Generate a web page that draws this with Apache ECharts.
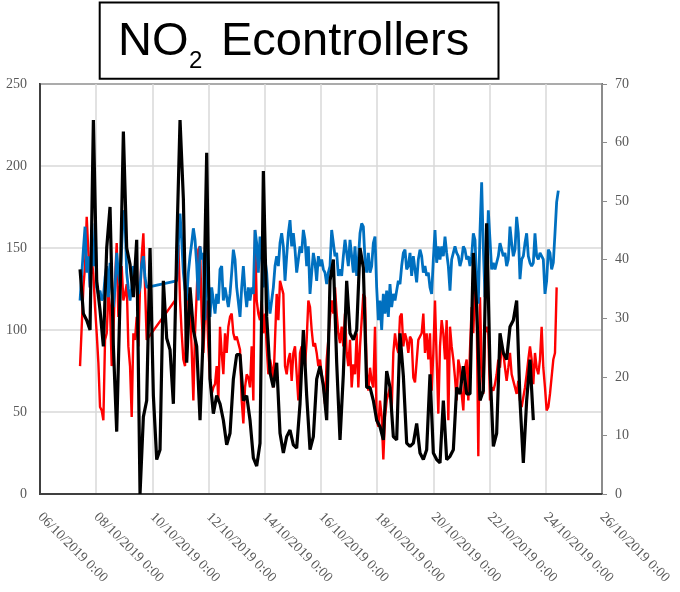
<!DOCTYPE html>
<html><head><meta charset="utf-8">
<script src="https://cdn.jsdelivr.net/npm/echarts@6/dist/echarts.min.js"></script>
<style>html,body{margin:0;padding:0;background:#fff}#c{width:680px;height:592px}</style>
</head><body><div id="c"></div>
<script>
// X-axis tick labels (every 48 h from 06/10/2019 0:00)
const xTickLabels = ['06/10/2019 0:00','08/10/2019 0:00','10/10/2019 0:00','12/10/2019 0:00','14/10/2019 0:00',
  '16/10/2019 0:00','18/10/2019 0:00','20/10/2019 0:00','22/10/2019 0:00','24/10/2019 0:00','26/10/2019 0:00'];
// sampling: first reading at 07/10/2019 ~10:12 (hours after 06/10 0:00)
const startHour = 34.2;
const stepBlueRedH = 1.4233;
const stepBlackH = 2.8467;

const blue = [
118,118,149,163,135,145,126,151,139,165,
126,122,124,118,120,132,139,120,141,126,
114,126,147,135,128,151,173,167,135,125,
118,126,139,135,130,122,126,140,145,132,
126,null,null,null,null,null,null,null,null,null,
null,null,null,null,null,null,null,null,130,153,
171,155,135,125,118,135,145,153,162,155,
140,118,151,143,147,106,149,132,108,126,
118,110,122,116,137,139,118,126,120,114,
122,135,149,143,126,126,
108,126,139,124,114,126,118,126,122,161,
153,135,157,145,126,143,135,118,110,118,
126,139,145,139,153,159,151,130,145,159,
167,151,159,149,135,143,151,147,161,155,
139,151,122,135,147,141,130,145,139,143,
137,135,128,135,139,161,161,145,147,133,
137,133,145,155,147,139,155,145,135,151,
133,143,159,165,163,143,135,147,135,139,
153,157,126,106,118,100,122,110,124,108,
128,114,122,118,124,130,128,139,147,149,
137,139,
147,133,145,137,129,143,149,145,135,139,
133,135,126,122,143,161,141,151,143,151,
145,157,147,139,124,143,147,151,147,145,
139,143,151,149,143,145,139,145,159,155,
130,116,160,190,150,120,137,173,155,137,
141,137,141,145,153,149,145,147,139,143,
163,153,145,149,169,159,131,143,145,153,
159,145,141,139,141,159,145,143,147,145,
143,122,130,149,147,137,141,159,178,185
];

const red = [
78,102,126,139,169,147,126,143,134,114,
98,80,53,51,45,94,98,122,114,78,
98,130,153,108,126,139,118,122,128,90,
78,47,98,94,108,90,126,145,159,126,
94,null,null,null,null,null,null,null,null,null,
null,null,null,null,null,null,null,118,140,152,
118,98,82,78,118,122,114,88,57,98,
122,149,151,108,86,110,118,90,70,61,
65,67,78,57,102,86,73,98,86,102,
108,110,98,94,96,92,
88,57,43,65,73,71,65,90,57,161,
118,110,106,118,98,110,90,73,82,77,
65,94,122,106,130,126,122,78,73,82,
86,69,86,90,73,57,86,90,86,78,
94,118,114,100,90,92,86,78,82,73,
67,55,82,94,108,118,110,126,110,98,
92,102,90,110,86,78,94,65,79,73,
98,65,90,106,122,120,75,63,77,69,
65,102,45,41,57,47,21,47,57,61,
65,51,86,98,90,86,108,110,90,98,
94,86,
96,94,71,68,81,94,94,98,110,86,
98,82,98,63,86,118,82,49,90,106,
98,82,106,45,102,90,82,71,57,82,
77,61,51,77,82,57,88,114,98,126,
114,23,120,77,61,98,102,98,57,65,
63,67,73,82,77,90,86,77,69,77,
86,73,69,65,61,69,57,53,59,65,
73,82,90,82,67,86,77,73,82,102,
77,65,51,53,61,61,82,86,126
];

const black = [
137,110,106,100,228,130,112,90,150,175,
90,38,120,221,150,140,120,155,0,47,
57,150,60,21,27,130,95,88,55,150,
228,180,80,126,100,90,45,100,208,70,
49,60,55,45,30,37,70,85,
85,57,60,45,22,17,31,197,108,74,
65,80,37,25,35,39,30,28,55,100,
60,27,35,70,78,66,45,130,143,80,
33,73,130,98,94,100,150,138,65,65,
57,45,41,33,75,65,35,33,98,72,31,
29,31,43,25,21,27,73,25,21,19,
57,21,23,27,65,61,78,61,61,147,
114,57,63,165,77,29,37,98,86,82,
102,106,118,57,19,57,82,45
];

function toSeries(vals, step) {
  return vals.map((v, i) => [startHour + i * step, v]);
}

const labelFont = { fontFamily: '"Liberation Serif", "Times New Roman", serif', fontSize: 14, color: '#595959' };
const chart = echarts.init(document.getElementById('c'), null, { renderer: 'canvas' });
chart.setOption({
  animation: false,
  backgroundColor: '#fff',
  grid: { left: 40, right: 78, top: 84, bottom: 98, show: true, borderColor: '#262626', borderWidth: 2,
          containLabel: false, outerBoundsMode: 'none' },
  graphic: [
    { type: 'rect', shape: { x: 99.7, y: 2.5, width: 398.8, height: 76.2 },
      style: { fill: '#fff', stroke: '#000', lineWidth: 2 }, z: 10 },
    { type: 'text', x: 118, y: 18.5, z: 11,
      style: { text: 'NO', fontSize: 47, fontFamily: '"Liberation Sans", Arial, sans-serif', fill: '#000', align: 'left', verticalAlign: 'top' } },
    { type: 'text', x: 189, y: 49.7, z: 11,
      style: { text: '2', fontSize: 24, fontFamily: '"Liberation Sans", Arial, sans-serif', fill: '#000', align: 'left', verticalAlign: 'top' } },
    { type: 'text', x: 221, y: 18.5, z: 11,
      style: { text: 'Econtrollers', fontSize: 47, fontFamily: '"Liberation Sans", Arial, sans-serif', fill: '#000', align: 'left', verticalAlign: 'top' } }
  ],
  xAxis: {
    type: 'value', min: 0, max: 480, interval: 48,
    axisLine: { show: true, lineStyle: { color: '#404040', width: 2 } },
    axisTick: { show: false },
    splitLine: { show: true, lineStyle: { color: '#d9d9d9', width: 1.5 } },
    axisLabel: Object.assign({ rotate: -45, margin: 21, showMinLabel: true, showMaxLabel: true,
      formatter: v => xTickLabels[Math.round(v / 48)] }, labelFont)
  },
  yAxis: [
    { type: 'value', min: 0, max: 250, interval: 50, position: 'left',
      axisLine: { show: true, lineStyle: { color: '#404040', width: 2 } },
      axisTick: { show: false },
      splitLine: { show: true, lineStyle: { color: '#d9d9d9', width: 1.5 } },
      axisLabel: Object.assign({ margin: 13 }, labelFont) },
    { type: 'value', min: 0, max: 70, interval: 10, position: 'right',
      axisLine: { show: true, lineStyle: { color: '#8c8c8c', width: 2 } },
      axisTick: { show: true, inside: false, length: 5, lineStyle: { color: '#8c8c8c', width: 1 } },
      splitLine: { show: false },
      axisLabel: Object.assign({ margin: 13 }, labelFont) }
  ],
  series: [
    { name: 'red', type: 'line', yAxisIndex: 0, data: toSeries(red, stepBlueRedH), showSymbol: false, symbol: 'none',
      connectNulls: true, silent: true, lineStyle: { color: '#ff0000', width: 2.4 }, z: 2 },
    { name: 'blue', type: 'line', yAxisIndex: 0, data: toSeries(blue, stepBlueRedH), showSymbol: false, symbol: 'none',
      connectNulls: true, silent: true, lineStyle: { color: '#0070c0', width: 2.8 }, z: 3 },
    { name: 'black', type: 'line', yAxisIndex: 0, data: toSeries(black, stepBlackH), showSymbol: false, symbol: 'none',
      connectNulls: true, silent: true, lineStyle: { color: '#000000', width: 3.2 }, z: 4 }
  ]
});
</script>
</body></html>
